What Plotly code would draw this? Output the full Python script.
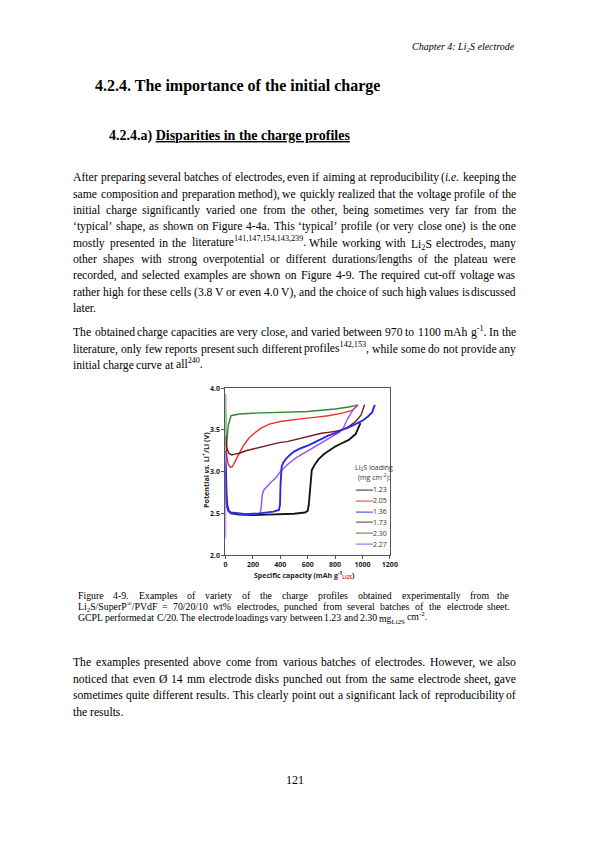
import re
import plotly.graph_objects as go

# ------------------------------------------------------------------ data
loadings = ["1.23", "2.05", "1.36", "1.73", "2.30", "2.27"]
colors = ["#151515", "#e8342c", "#2a2ae6", "#7c1616", "#2f8a2f", "#9552f2"]

cap_123 = [0, 2, 8, 20, 40, 100, 200, 300, 400, 500, 580, 600, 608, 614, 620, 630, 650, 680, 720, 760, 800, 850, 900, 950, 985]
volt_123 = [3.0, 2.8, 2.62, 2.53, 2.50, 2.485, 2.48, 2.485, 2.49, 2.495, 2.51, 2.53, 2.6, 2.75, 2.9, 3.02, 3.08, 3.15, 3.21, 3.26, 3.30, 3.34, 3.38, 3.45, 3.58]

cap_205 = [3, 10, 20, 35, 50, 70, 100, 130, 170, 210, 260, 320, 400, 480, 560, 650, 750, 850, 920, 965]
volt_205 = [3.35, 3.18, 3.09, 3.05, 3.06, 3.12, 3.22, 3.31, 3.40, 3.46, 3.52, 3.57, 3.60, 3.62, 3.635, 3.65, 3.67, 3.70, 3.73, 3.79]

cap_136 = [0, 1, 3, 8, 15, 25, 40, 80, 150, 250, 350, 390, 398, 402, 405, 410, 420, 440, 470, 500, 550, 600, 650, 700, 750, 800, 850, 900, 950, 1000, 1040, 1070, 1090]
volt_136 = [3.25, 3.1, 2.9, 2.7, 2.58, 2.53, 2.51, 2.50, 2.49, 2.50, 2.52, 2.54, 2.60, 2.85, 3.00, 3.06, 3.10, 3.15, 3.20, 3.24, 3.28, 3.31, 3.35, 3.39, 3.43, 3.46, 3.50, 3.53, 3.57, 3.61, 3.66, 3.71, 3.80]

cap_173 = [2, 10, 25, 45, 70, 100, 150, 200, 250, 300, 350, 400, 450, 500, 550, 600, 650, 700, 750, 800, 850, 900, 950, 990, 1015]
volt_173 = [3.42, 3.28, 3.22, 3.20, 3.21, 3.22, 3.25, 3.27, 3.29, 3.31, 3.33, 3.35, 3.36, 3.38, 3.40, 3.42, 3.44, 3.46, 3.47, 3.48, 3.50, 3.54, 3.60, 3.68, 3.80]

cap_230 = [0, 0.5, 2, 5, 10, 20, 40, 100, 200, 300, 400, 500, 600, 700, 800, 900, 970]
volt_230 = [3.93, 3.6, 3.3, 3.22, 3.35, 3.55, 3.67, 3.69, 3.70, 3.705, 3.71, 3.715, 3.72, 3.735, 3.75, 3.775, 3.80]

cap_227 = [0, 0.5, 2, 6, 15, 30, 60, 120, 200, 245, 258, 263, 268, 280, 300, 330, 370, 400, 430, 470, 520, 580, 650, 720, 780, 830, 860, 890, 920, 960]
volt_227 = [2.2, 3.1, 2.85, 2.65, 2.55, 2.51, 2.50, 2.49, 2.49, 2.50, 2.53, 2.62, 2.72, 2.78, 2.82, 2.87, 2.93, 3.00, 3.05, 3.11, 3.17, 3.23, 3.30, 3.37, 3.43, 3.47, 3.52, 3.63, 3.71, 3.80]

series_cap = [cap_123, cap_205, cap_136, cap_173, cap_230, cap_227]
series_volt = [volt_123, volt_205, volt_136, volt_173, volt_230, volt_227]

x_ticks = [0, 200, 400, 600, 800, 1000, 1200]
y_ticks = [2.0, 2.5, 3.0, 3.5, 4.0]
y_ticktext = ["2.0", "2.5", "3.0", "3.5", "4.0"]

# ------------------------------------------------------------------ page text
header = "<i>Chapter 4: Li<sub>2</sub>S electrode</i>"
heading = "<b>4.2.4. The importance of the initial charge</b>"
subheading = ("<b>4.2.4.a) <span style='text-decoration:underline'>"
              "Disparities in the charge profiles</span></b>")
para1 = [
    "After preparing several batches of electrodes, even if aiming at reproducibility (<i>i.e.</i> keeping the",
    "same composition and preparation method), we quickly realized that the voltage profile of the",
    "initial charge significantly varied one from the other, being sometimes very far from the",
    "‘typical’ shape, as shown on Figure 4-4a. This ‘typical’ profile (or very close one) is the one",
    "mostly presented in the literature<sup>141,147,154,143,239</sup>. While working with Li<sub>2</sub>S electrodes, many",
    "other shapes with strong overpotential or different durations/lengths of the plateau were",
    "recorded, and selected examples are shown on Figure 4-9. The required cut-off voltage was",
    "rather high for these cells (3.8 V or even 4.0 V), and the choice of such high values is discussed",
    "later.",
]
para2 = [
    "The obtained charge capacities are very close, and varied between 970 to 1100 mAh g<sup>-1</sup>. In the",
    "literature, only few reports present such different profiles<sup>142,153</sup>, while some do not provide any",
    "initial charge curve at all<sup>240</sup>.",
]
caption = [
    "Figure 4-9. Examples of variety of the charge profiles obtained experimentally from the",
    "Li<sub>2</sub>S/SuperP<sup>®</sup>/PVdF = 70/20/10 wt% electrodes, punched from several batches of the electrode sheet.",
    "GCPL performed at C/20. The electrode loadings vary between 1.23 and 2.30 mg<sub>Li2S</sub> cm<sup>-2</sup>.",
]
para3 = [
    "The examples presented above come from various batches of electrodes. However, we also",
    "noticed that even Ø 14 mm electrode disks punched out from the same electrode sheet, gave",
    "sometimes quite different results. This clearly point out a significant lack of reproducibility of",
    "the results.",
]
page_number = "121"

# ------------------------------------------------------------------ layout helpers
W, H = 595, 842
SERIF = "Liberation Serif"
SANS = "Open Sans"

TIMES = {' ': 250, '%': 833, "'": 180, '(': 333, ')': 333, ',': 250, '-': 333, '.': 250,
         '/': 278, ':': 278, ';': 278, '=': 564, '+': 564, '‘': 333, '’': 333, '®': 760, 'Ø': 722}
for ch in "0123456789":
    TIMES[ch] = 500
TIMES.update(dict(zip("ABCDEFGHIJKLMNOPQRSTUVWXYZ",
                      [722, 667, 667, 722, 611, 556, 722, 722, 333, 389, 722, 611, 889, 722, 722,
                       556, 722, 667, 556, 611, 722, 722, 944, 722, 722, 611])))
TIMES.update(dict(zip("abcdefghijklmnopqrstuvwxyz",
                      [444, 500, 444, 500, 444, 333, 500, 500, 278, 278, 500, 278, 778, 500, 500,
                       500, 500, 333, 389, 278, 500, 500, 722, 500, 500, 444])))


def text_em(s):
    total = 0.0
    scale = 1.0
    for tok in re.split(r'(<[^>]+>)', s):
        if not tok:
            continue
        if tok.startswith('<'):
            if tok in ('<sup>', '<sub>'):
                scale = 0.7
            elif tok in ('</sup>', '</sub>'):
                scale = 1.0
            continue
        for ch in tok:
            total += TIMES.get(ch, 500) * scale
    return total / 1000.0


annotations = []


def add_text(xp, yp, text, size, family=SERIF, xanchor='left', color='black', yshift=0, **kw):
    annotations.append(dict(
        x=xp / W, y=1 - yp / H, xref='paper', yref='paper', text=text,
        showarrow=False, xanchor=xanchor, yanchor='middle', borderpad=0, borderwidth=0,
        font=dict(family=family, size=size, color=color), yshift=yshift, **kw))


def vshift(word, fs):
    s = 0.0
    if '<sup>' in word:
        s += 0.165 * fs
    if '<sub>' in word:
        s -= 0.115 * fs
    return s


def fit_size(blocks, x0, x1, cap):
    best = cap
    for lines in blocks:
        for line in lines[:-1]:
            em = text_em(line)
            best = min(best, 0.99 * (x1 - x0) / em)
    return best


def justify_block(lines, x0, x1, y0, dy, fs, last_left=True):
    for k, line in enumerate(lines):
        y = y0 + k * dy
        words = line.split(' ')
        widths = [text_em(w) * fs for w in words]
        justified = len(words) > 1 and not (last_left and k == len(lines) - 1)
        gap = (x1 - x0 - sum(widths)) / (len(words) - 1) if justified else 0.25 * fs
        x = x0
        for i, w in enumerate(words):
            if justified and i == len(words) - 1:
                add_text(x1, y, w, fs, xanchor='right', yshift=vshift(w, fs))
            else:
                add_text(x, y, w, fs, yshift=vshift(w, fs))
            x += widths[i] + gap


# ------------------------------------------------------------------ page text placement
add_text(522, 43, header, 10, xanchor='right')
add_text(95, 81.5, heading, 16)
add_text(109.3, 132, subheading, 14)

BODY_X0, BODY_X1 = 72.5, 523
body_fs = fit_size([para1, para2, para3], BODY_X0, BODY_X1, 12)
cap_fs = fit_size([caption], 77, 517, 9.8)
justify_block(para1, BODY_X0, BODY_X1, 174.5, 16.56, body_fs)
justify_block(para2, BODY_X0, BODY_X1, 331.5, 16.56, body_fs)
justify_block(caption, 77, 517, 597, 11.3, cap_fs)
justify_block(para3, BODY_X0, BODY_X1, 665, 16.56, body_fs)
add_text(297.5, 783, page_number, 12, xanchor='center')

# ------------------------------------------------------------------ chart
X0, X1 = 227.3, 394.5
Y_TOP, Y_BOT = 387.3, 556.0

fig = go.Figure()
order = [4, 1, 3, 0, 5, 2]
for i in order:
    fig.add_trace(go.Scatter(
        x=series_cap[i], y=series_volt[i], mode='lines',
        line=dict(color=colors[i], width=1.9 if i in (0, 2) else 1.4),
        showlegend=False, hoverinfo='skip'))

axis_common = dict(ticks='outside', ticklen=3, tickwidth=1, tickcolor='#555',
                   showline=True, linecolor='#555', linewidth=1, mirror=True,
                   showgrid=False, zeroline=False,
                   tickfont=dict(family=SANS, size=7, color='#222', weight='bold'))

fig.update_xaxes(range=[0, 1200], tickvals=x_ticks, domain=[X0 / W, X1 / W], **axis_common)
fig.update_yaxes(range=[2, 4], tickvals=y_ticks, ticktext=y_ticktext,
                 domain=[1 - Y_BOT / H, 1 - Y_TOP / H], **axis_common)

# axis titles
add_text(308, 576, "<b>Specific capacity (mAh g<sup>-1</sup>"
         "<sub><span style='color:#e8342c'>Li2S</span></sub>)</b>",
         7, family=SANS, xanchor='center', color='#222')
annotations.append(dict(
    x=207.5 / W, y=1 - 470 / H, xref='paper', yref='paper',
    text="<b>Potential <i>vs.</i> Li<sup>+</sup>/Li (V)</b>", textangle=-90,
    showarrow=False, xanchor='center', yanchor='middle', borderpad=0,
    font=dict(family=SANS, size=7.2, color='#222')))

# legend (text based)
add_text(378, 467.3, "Li<sub>2</sub>S loading", 7, family=SANS, xanchor='center', color='#333')
add_text(378, 476.7, "(mg cm<sup>-2</sup>):", 7, family=SANS, xanchor='center', color='#333')
for i, lab in enumerate(loadings):
    yrow = 490 + 11 * i
    add_text(359, yrow, "━━━━━", 5.6, family="DejaVu Sans Mono", color=colors[i])
    add_text(377.5, yrow, lab, 7, family=SANS, color='#333')

fig.update_layout(
    width=W, height=H, margin=dict(l=0, r=0, t=0, b=0),
    paper_bgcolor='white', plot_bgcolor='white',
    showlegend=False, annotations=annotations)

fig.write_html("out.html", include_plotlyjs=True, config={'displayModeBar': False},
               post_script="document.body.style.margin='0';")
